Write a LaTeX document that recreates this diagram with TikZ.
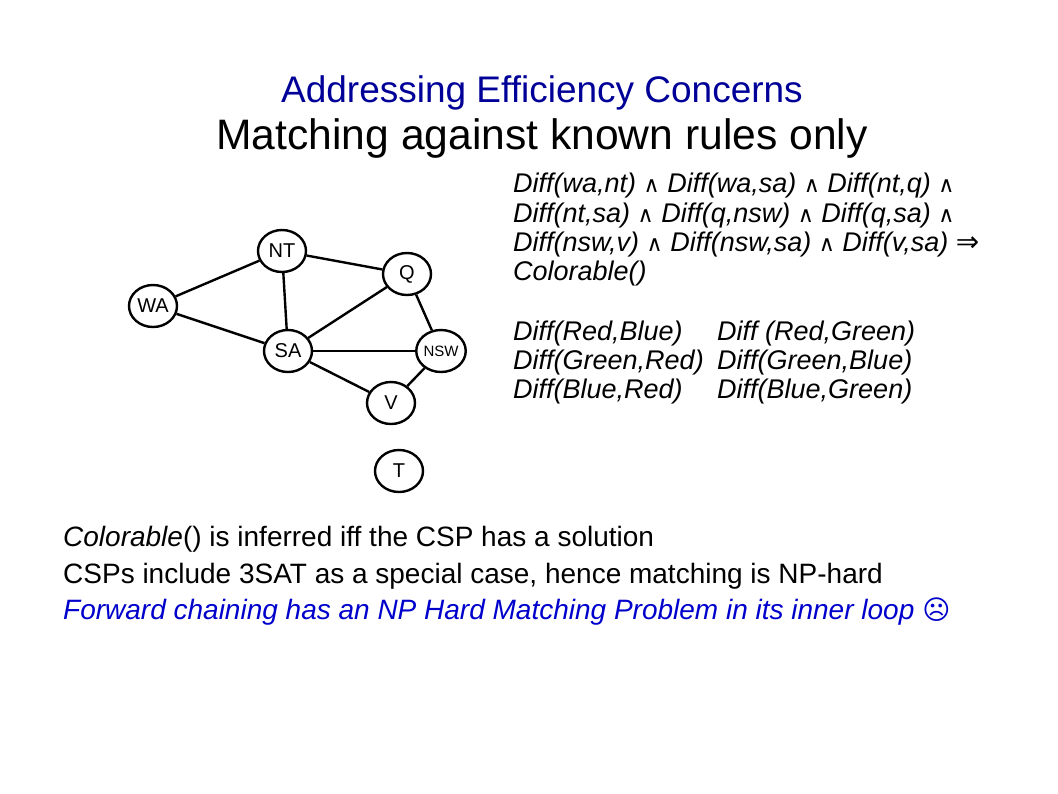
\documentclass[tikz,border=0pt]{standalone}
\usepackage{fontspec}
\setmainfont{Liberation Sans}
\newfontfamily\symfont{DejaVu Sans}
\usetikzlibrary{shapes.geometric}
\definecolor{TitleBlue}{RGB}{0,0,153}
\definecolor{LoopBlue}{RGB}{0,0,204}
\newcommand{\conj}{{\symfont\fontsize{22}{22}\selectfont ∧}}
\newcommand{\implies}{{\symfont\fontsize{28}{28}\selectfont ⇒}}

\begin{document}
\begin{tikzpicture}[x=1pt,y=-1pt,
    region/.style={draw,line width=2.4pt,ellipse,minimum width=48pt,minimum height=42pt,inner sep=0pt,font=\fontsize{20}{20}\selectfont},
    rule/.style={anchor=base west,inner sep=0pt,font=\fontsize{27}{27}\selectfont\itshape},
    body/.style={anchor=base west,inner sep=0pt,font=\fontsize{28}{28}\selectfont}]
    \useasboundingbox[fill=white] (0,0) rectangle (1058,793);
    % titles
    \node[anchor=base,inner sep=0pt,TitleBlue,font=\fontsize{37}{37}\selectfont] (title) at (542,102) {Addressing Efficiency Concerns};
    \node[anchor=base,inner sep=0pt,font=\fontsize{42.6}{42.6}\selectfont] (subtitle) at (542,149) {Matching against known rules only};
    % map graph
    \node[region] (wa) at (153,306) {WA};
    \node[region] (nt) at (282,251) {NT};
    \node[region] (q) at (407,274) {Q};
    \node[region] (sa) at (288,351) {SA};
    \node[region,font=\fontsize{15}{15}\selectfont] (nsw) at (441,351) {NSW};
    \node[region] (v) at (391,403) {V};
    \node[region] (t) at (399,471) {T};
    \foreach \a/\b in {wa/nt, wa/sa, nt/sa, nt/q, q/sa, q/nsw, sa/nsw, sa/v, nsw/v} {
        \draw[line width=2.4pt] (\a) -- (\b);
    }
    % rule
    \node[rule] (r1) at (513,192) {Diff(wa,nt) \conj{} Diff(wa,sa) \conj{} Diff(nt,q) \conj};
    \node[rule] (r2) at (513,222) {Diff(nt,sa) \conj{} Diff(q,nsw) \conj{} Diff(q,sa) \conj};
    \node[rule] (r3) at (513,251) {Diff(nsw,v) \conj{} Diff(nsw,sa) \conj{} Diff(v,sa) \implies};
    \node[rule] (r4) at (513,280) {Colorable()};
    % facts
    \foreach \y/\left/\right in {340/{Diff(Red,Blue)}/{Diff (Red,Green)}, 369/{Diff(Green,Red)}/{Diff(Green,Blue)}, 398/{Diff(Blue,Red)}/{Diff(Blue,Green)}} {
        \node[rule] at (513,\y) {\left};
        \node[rule] at (717,\y) {\right};
    }
    % remarks
    \node[body] (b1) at (63,546) {\textit{Colorable}() is inferred iff the CSP has a solution};
    \node[body] (b2) at (63,583) {CSPs include 3SAT as a special case, hence matching is NP-hard};
    \node[body,LoopBlue] (b3) at (63,619) {\textit{Forward chaining has an NP Hard Matching Problem in its inner loop} {\symfont\fontsize{27}{27}\selectfont ☹}};
\end{tikzpicture}
\end{document}
